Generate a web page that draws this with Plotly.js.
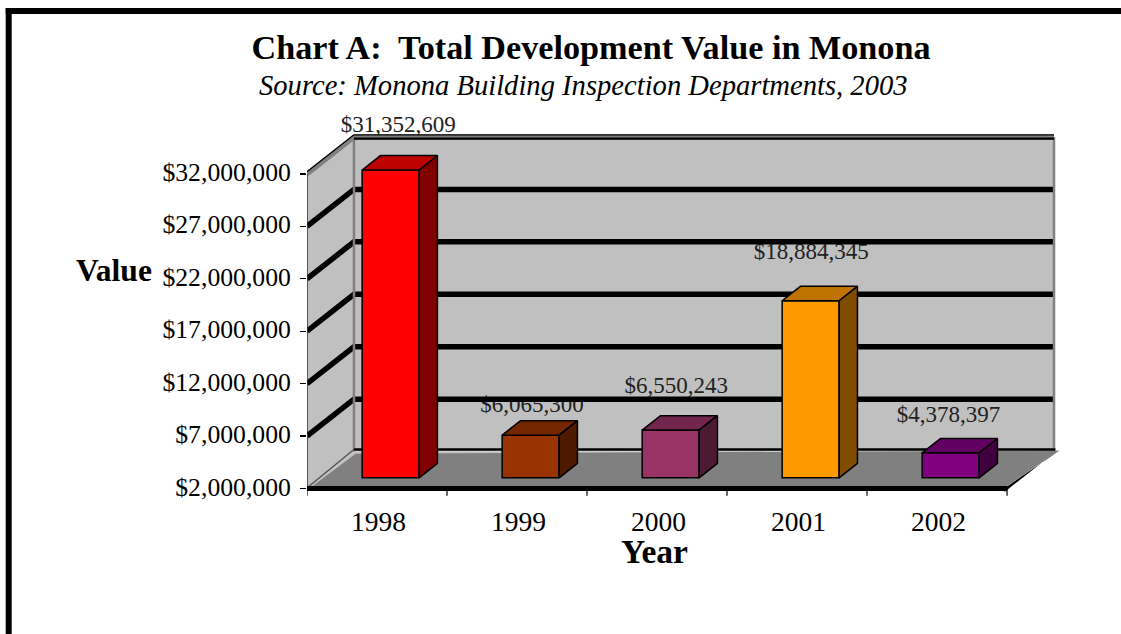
<!DOCTYPE html>
<html>
<head>
<meta charset="utf-8">
<script src="https://cdn.plot.ly/plotly-3.0.1.min.js"></script>
<style>html,body{margin:0;padding:0;background:#fff}#c{width:1121px;height:634px}</style>
</head>
<body>
<div id="c"></div>
<script>
// ----- data -----
const years = ['1998', '1999', '2000', '2001', '2002'];
const values = [31352609, 6065300, 6550243, 18884345, 4378397];
const valueLabels = ['$31,352,609', '$6,065,300', '$6,550,243', '$18,884,345', '$4,378,397'];
const yTicks = [2000000, 7000000, 12000000, 17000000, 22000000, 27000000, 32000000];
const yTickLabels = ['$2,000,000', '$7,000,000', '$12,000,000', '$17,000,000', '$22,000,000', '$27,000,000', '$32,000,000'];

// ----- styles -----
const frontColors = ['#FF0000', '#993300', '#993366', '#FF9900', '#800080'];
const topColors   = ['#BF0000', '#732600', '#73264D', '#BF7300', '#600060'];
const sideColors  = ['#800000', '#4D1A00', '#4D1A33', '#804D00', '#400040'];
const labelNudgeX = [0.055, 0.01, 0.04, 0.005, -0.015];
const labelNudgeY = [4200000, 2760000, 4100000, 4570000, 3520000];

// ----- geometry of the pseudo-3D box (axis units) -----
const FONT = '"Liberation Serif","Times New Roman",serif';
const W = 1121, H = 634;
const PX_PER_M = 10.5, Y2M = 489;           // pixel of $2,000,000
const L = 306.5, R = 1062, T = 100, B = 499.5;
const yMin = 2000000, yTop = 32000000;
const yRange = [yMin - (B - Y2M) / PX_PER_M * 1e6, yMin + (Y2M - T) / PX_PER_M * 1e6];
const xMin = -0.5, xFront = 4.5, xRangeMax = xMin + (R - L) / 140.1;
const DX = 0.3355, DY = 3520000;            // full depth of the box
const D0 = 0.29, D1 = 0.68, BAR_W = 0.407;  // bar depth placement
const px = v => (v - L) / (R - L), py = v => (B - v) / (B - T);

function proj(x, y, d) { return [x + d * DX, y + d * DY]; }
function poly(points, fill, lineColor, lineWidth, axes) {
  return Object.assign({
    type: 'scatter', mode: 'lines', x: points.map(p => p[0]), y: points.map(p => p[1]),
    fill: 'toself', fillcolor: fill,
    line: {color: lineColor || fill, width: lineWidth === undefined ? 0 : lineWidth, shape: 'linear'},
    hoverinfo: 'skip', showlegend: false, cliponaxis: false
  }, axes || {});
}
function seg(points, color, width) {
  return {type: 'scatter', mode: 'lines', x: points.map(p => p[0]), y: points.map(p => p[1]),
    line: {color: color, width: width}, hoverinfo: 'skip', showlegend: false, cliponaxis: false};
}

const traces = [];
// walls and floor
traces.push(poly([proj(xMin, yTop, 0), proj(xMin, yTop, 1), proj(xMin, yMin, 1), proj(xMin, yMin, 0)], '#C0C0C0'));
traces.push(poly([proj(xMin, yTop, 1), proj(xFront, yTop, 1), proj(xFront, yMin, 1), proj(xMin, yMin, 1)], '#C0C0C0'));
traces.push(poly([proj(xMin, yMin, 0), proj(xFront, yMin, 0), proj(xFront, yMin, 1), proj(xMin, yMin, 1)], '#C0C0C0'));
// dark rim under the floor
traces.push(poly([[xFront - 0.02, yMin - 350000], [xFront + 0.29, yMin + DY - 600000], [xFront + 0.375, yMin + DY + 100000], [xFront, yMin + 200000]], '#000000'));
traces.push(poly([[xMin + 0.04, yMin + 250000], [xFront, yMin + 250000], [xFront + 0.375, yMin + DY + 100000], [xMin + DX + 0.012, yMin + DY - 200000]], '#808080'));
// value labels sit beneath the grid lines
traces.push({type: 'scatter', mode: 'text',
  x: years.map((_, i) => i + D0 * DX + labelNudgeX[i]),
  y: values.map((v, i) => v + D0 * DY + labelNudgeY[i]),
  text: valueLabels, textposition: 'middle center',
  textfont: {family: FONT, size: 23, color: '#222222'},
  hoverinfo: 'skip', showlegend: false, cliponaxis: false});
// grid lines on the side and back walls
yTicks.slice(1, -1).forEach(t => {
  traces.push(seg([proj(xMin, t, 0), proj(xMin, t, 1), proj(xFront, t, 1)], '#000000', 5.5));
});
// wall edges
traces.push(seg([proj(xFront, yTop, 1), proj(xFront, yMin, 1)], '#808080', 2.5));
traces.push(seg([proj(xMin, yTop, 1), proj(xMin, yMin, 1)], '#808080', 2.5));
traces.push(seg([proj(xMin, yTop, 0), proj(xMin, yTop, 1), proj(xFront, yTop, 1)], '#808080', 5));
traces.push(seg([proj(xMin, yTop + 200000, 0), proj(xMin, yTop + 200000, 1), proj(xFront, yTop + 200000, 1)], '#000000', 1.2));
traces.push(seg([proj(xMin, yTop - 150000, 1), proj(xFront, yTop - 150000, 1)], '#000000', 2.2));
traces.push(seg([proj(xMin, yMin + 200000, 1), proj(xFront + 0.01, yMin + 200000, 1)], '#000000', 2.5));
traces.push(seg([proj(xMin, yMin, 0), proj(xMin, yTop, 0)], '#333333', 1.5));
traces.push(seg([proj(xMin, yMin + 50000, 0), proj(xMin, yMin + 200000, 1)], '#555555', 1.5));
// thick front edge of the floor and its tick marks
traces.push(seg([[xMin - 0.02, yMin], [xFront, yMin]], '#000000', 5));
[-0.5, 0.5, 1.5, 2.5, 3.5, 4.5].forEach(t => traces.push(seg([[t, yMin], [t, yMin - 680000]], '#000000', 1.2)));

// bars: front faces through the library's bar trace, depth faces from the same values
const ax2 = {xaxis: 'x2', yaxis: 'y2'};
traces.push(Object.assign({
  type: 'bar', x: years.map((_, i) => i + D0 * DX),
  y: values.map(v => v - yMin), base: years.map(() => yMin + D0 * DY),
  width: BAR_W, marker: {color: frontColors, line: {color: '#000000', width: 1.5}},
  hoverinfo: 'skip', showlegend: false
}, ax2));
values.forEach((v, i) => {
  const a = i - BAR_W / 2, b = i + BAR_W / 2;
  traces.push(poly([proj(a, v, D0), proj(a, v, D1), proj(b, v, D1), proj(b, v, D0), proj(a, v, D0)], topColors[i], '#000000', 1.5, ax2));
  traces.push(poly([proj(b, v, D0), proj(b, v, D1), proj(b, yMin, D1), proj(b, yMin, D0), proj(b, v, D0)], sideColors[i], '#000000', 1.5, ax2));
});

const layout = {
  width: W, height: H, autosize: false,
  paper_bgcolor: '#FFFFFF', plot_bgcolor: 'rgba(0,0,0,0)',
  margin: {l: L, r: W - R, t: T, b: H - B, pad: 0, autoexpand: false},
  font: {family: FONT, color: '#000000'},
  showlegend: false, hovermode: false, barmode: 'overlay',
  title: {text: '<b>Chart A:  Total Development Value in Monona</b>', x: 591 / W, xanchor: 'center',
    y: 1 - 47 / H, yanchor: 'middle', xref: 'container', yref: 'container',
    font: {family: FONT, size: 34.2, color: '#000000'}},
  xaxis: {type: 'linear', range: [xMin, xRangeMax], tickmode: 'array',
    tickvals: years.map((_, i) => i + 0.01), ticktext: years,
    ticks: '', showgrid: false, zeroline: false, showline: false,
    ticklabelstandoff: 3, tickfont: {family: FONT, size: 27.5, color: '#000000'}},
  yaxis: {type: 'linear', range: yRange, tickmode: 'array',
    tickvals: yTicks, ticktext: yTickLabels, ticks: 'outside', ticklen: 6, tickwidth: 1.2, tickcolor: '#000000',
    showgrid: false, zeroline: false, showline: false,
    ticklabelstandoff: 4, ticklabelshift: -2,
    tickfont: {family: FONT, size: 25.7, color: '#000000'}},
  xaxis2: {type: 'linear', overlaying: 'x', anchor: 'y2', range: [xMin, xRangeMax], visible: false},
  yaxis2: {type: 'linear', overlaying: 'y', anchor: 'x2', range: yRange, visible: false},
  annotations: [
    {text: '<i>Source: Monona Building Inspection Departments, 2003</i>', xref: 'paper', yref: 'paper',
      x: px(583), y: py(85), xanchor: 'center', yanchor: 'middle', showarrow: false,
      font: {family: FONT, size: 28.6, color: '#000000'}},
    {text: '<b>Value</b>', xref: 'paper', yref: 'paper', x: px(113), y: py(270.5), xanchor: 'center', yanchor: 'middle',
      showarrow: false, font: {family: FONT, size: 31.5, color: '#000000'}},
    {text: '<b>Year</b>', xref: 'paper', yref: 'paper', x: px(654), y: py(552), xanchor: 'center', yanchor: 'middle',
      showarrow: false, font: {family: FONT, size: 33.5, color: '#000000'}}
  ],
  shapes: [
    {type: 'rect', xref: 'paper', yref: 'paper', x0: px(5), x1: px(W + 5), y0: py(14), y1: py(8), fillcolor: '#000000', line: {width: 0}},
    {type: 'rect', xref: 'paper', yref: 'paper', x0: px(5), x1: px(11), y0: py(H + 5), y1: py(8), fillcolor: '#000000', line: {width: 0}}
  ]
};
Plotly.newPlot('c', traces, layout, {displayModeBar: false, staticPlot: true});
</script>
</body>
</html>
